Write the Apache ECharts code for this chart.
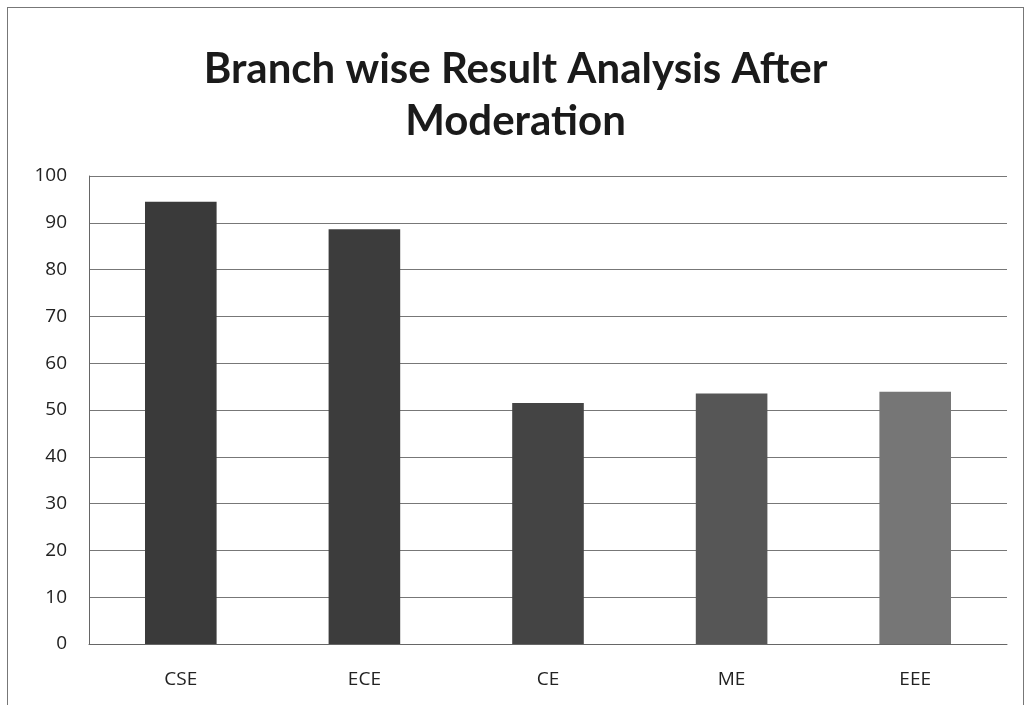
<!DOCTYPE html>
<html>
<head>
<meta charset="utf-8">
<script src="https://cdn.jsdelivr.net/npm/echarts@6/dist/echarts.min.js"></script>
<style>
  html, body { margin: 0; padding: 0; background: #fff; overflow: hidden; }
  #chart { position: absolute; left: 7px; top: 7px; width: 1017px; height: 700px; border: 1px solid #777; box-sizing: border-box; }
</style>
</head>
<body>
<div id="chart"></div>
<script>
// data
var branches = ['CSE', 'ECE', 'CE', 'ME', 'EEE'];
var results = [94.5, 88.6, 51.5, 53.5, 53.9];
var barColors = ['#3a3a3a', '#3c3c3c', '#444444', '#565656', '#767676'];

var chart = echarts.init(document.getElementById('chart'));
chart.setOption({
    backgroundColor: '#fff',
    title: {
        text: 'Branch wise Result Analysis After\nModeration',
        left: 'center',
        top: 30,
        textStyle: {
            fontFamily: 'Lato',
            fontWeight: 'bold',
            fontSize: 42,
            lineHeight: 52,
            color: '#1a1a1a'
        }
    },
    grid: { left: 81, right: 16, top: 168, bottom: 62 },
    xAxis: {
        type: 'category',
        data: branches,
        axisLine: { show: true, lineStyle: { color: '#666', width: 1 } },
        axisTick: { show: false },
        axisLabel: { fontFamily: 'Open Sans', fontSize: 19, color: '#222', margin: 26 }
    },
    yAxis: {
        type: 'value',
        min: 0,
        max: 100,
        interval: 10,
        axisLine: { show: true, lineStyle: { color: '#666', width: 1 } },
        axisTick: { show: false },
        axisLabel: { fontFamily: 'Open Sans', fontSize: 19, color: '#222', margin: 22 },
        splitLine: { lineStyle: { color: '#777', width: 1 } }
    },
    series: [{
        type: 'bar',
        barWidth: '39%',
        data: results.map(function (v, i) {
            return { value: v, itemStyle: { color: barColors[i] } };
        })
    }]
});
</script>
</body>
</html>
